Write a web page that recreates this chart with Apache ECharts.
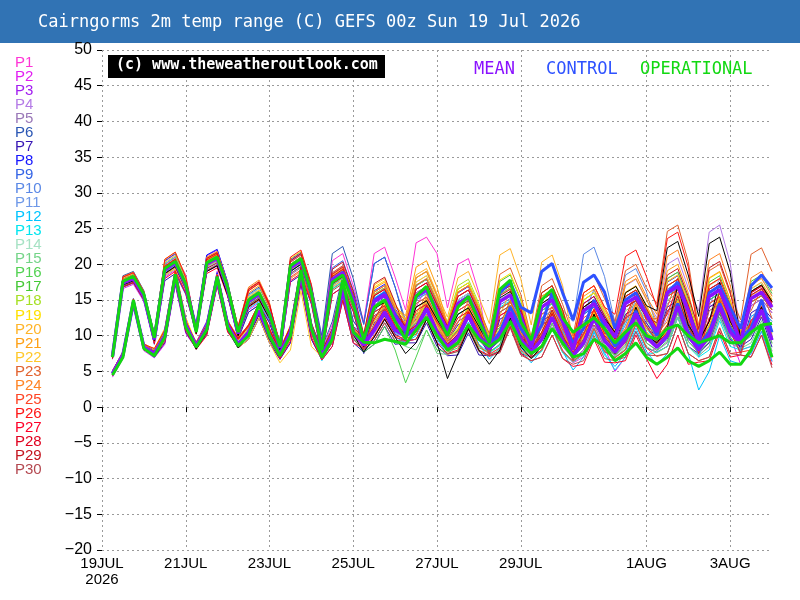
<!DOCTYPE html>
<html>
<head>
<meta charset="utf-8">
<script src="https://cdn.jsdelivr.net/npm/echarts@6/dist/echarts.min.js"></script>
<style>
  html, body { margin: 0; padding: 0; background: #fff; }
  #main { width: 800px; height: 600px; }
</style>
</head>
<body>
<div id="main"></div>
<script>
// 6-hourly steps from 19 Jul 00z to 4 Aug 00z (index 0 = 00z, data starts at 06z)
const hours = [];
for (let h = 0; h <= 384; h += 6) hours.push(h);

const tickLabels = { 0: "19JUL\n2026", 8: "21JUL", 16: "23JUL", 24: "25JUL", 32: "27JUL", 40: "29JUL", 52: "1AUG", 60: "3AUG" };

const memberNames = ["P1","P2","P3","P4","P5","P6","P7","P8","P9","P10","P11","P12","P13","P14","P15",
  "P16","P17","P18","P19","P20","P21","P22","P23","P24","P25","P26","P27","P28","P29","P30"];

// upper (6h max) and lower (6h min) per member in C; groups of 4 = one day (06z,12z,18z,00z)
const p01u = [7.5,18.2,18.8,16.2, 10,20.4,21.4,18.5, 11,20.5,21.3,17.2, 11,16.3,17.3,14.2, 8.8,20.5,21.5,16.8, 9.5,20.5,21.5,17, 12,21.5,22.4,18.2, 13.6,23,23.8,21.5, 13.9,20,20.8,16, 7.4,12.8,13.7,10.8, 7.5,12.5,13.5,10.8, 7,11.5,12.5,10.4, 10,15,15.9,13.4, 11,17,17.9,14.3, 8.2,14,14.9,11.8, 7.8,12.7,13.6,12];
const p01l = [5,7.8,15.2,8.9, 8,11,19.3,12.5, 8.6,11,18,11.5, 9.3,11.5,14.5,10.8, 7.6,11,19.3,11.4, 8,11.5,18,12, 10.2,13.8,16.3,13.5, 11.5,14,16.8,13.5, 9.4,11.8,14.9,11.6, 7.4,8.3,11.8,8.2, 7,8,11.1,8, 6.2,7,10.5,7.6, 7.7,9.5,13.1,9.8, 8.6,10.5,14.6,10.4, 7.2,8.5,12.6,9.2, 8,8.5,11.6,7.8];
const p02u = [6.7,16.6,17.2,14.8, 9,18.2,19.2,16, 10.5,19.5,20.3,16.1, 9.7,13.6,14.6,12, 7.5,18,19,14.8, 7.7,16.8,17.8,14.2, 8,12.8,13.7,11, 9.5,13,13.9,11.5, 10.3,13.5,14.4,11.7, 9.2,16.3,17.2,14, 8.8,15,16,12.8, 8.2,14,15,12.4, 10.3,15.5,16.4,13.8, 11.5,18,18.9,15.1, 8.5,14.5,15.4,12.2, 8.6,14.2,15.1,13.2];
const p02l = [4.2,6.8,14.2,7.9, 6.9,8.8,17.1,10.3, 8.2,10.2,17.2,10.7, 8.3,9.5,12.5,9, 6.7,9,17.3,9.5, 6.8,9,15.5,9.5, 8,9.3,11.8,9.3, 9.2,9.5,12.3,9, 8.1,9.3,12.4,9.3, 8.4,10.3,13.8,10, 7.7,9.5,12.6,9.3, 6.7,8,11.5,8.3, 5,7,10.6,7.3, 8.4,10,14.1,10, 7.8,9.5,13.6,10, 6,7.5,10.6,6.4];
const p03u = [7.3,17.7,18.3,15.8, 9.8,19.7,20.7,17.4, 11.4,21.2,22,17.5, 10.6,15.3,16.3,13.4, 8.7,20.3,21.3,16.6, 8,17.3,18.3,14.6, 9.5,15.8,16.7,13.4, 11,16,16.9,13.9, 11,15,15.9,12.9, 8.4,14.8,15.7,12.8, 8.5,14.5,15.5,12.4, 8.2,14,15,12.4, 9.8,14.5,15.4,13, 10.8,16.5,17.4,13.9, 9.5,16.5,17.4,13.8, 9.3,15.7,16.6,14.4];
const p03l = [4.9,7.5,14.9,8.6, 7.6,10.3,18.6,11.7, 9.1,12,19,12.3, 8.9,10.8,13.8,10.2, 7.6,11,19.3,11.4, 7.2,9.7,16.2,10.3, 8.9,11.3,13.8,11.2, 10,11,13.8,10.5, 8.5,10.1,13.2,10, 8.2,9.8,13.3,9.5, 7.8,9.8,12.9,9.5, 7.3,9.3,12.8,9.5, 7.7,9.5,13.1,9.8, 8.5,10.3,14.4,10.2, 8.2,10.5,14.6,10.9, 9,10.5,13.6,9.4];
const p04u = [7,17.1,17.7,15.3, 9.9,20,21,17.6, 10.3,19,19.8,15.7, 10.4,15.1,16.1,13.2, 8,19,20,15.6, 8.5,18.3,19.3,15.4, 8.5,13.8,14.7,11.8, 10.5,15,15.9,13.1, 11.5,16,16.9,13.7, 8.9,15.8,16.7,13.6, 8.8,15,16,12.8, 8.8,15,16,13.2, 11,17,17.9,15, 12.5,20,20.9,16.7, 13.5,24.5,25.5,20.2, 10.1,17.2,18.1,15.6];
const p04l = [4.7,7.3,14.7,8.4, 7.8,10.5,18.8,11.9, 8.2,10.2,17.2,10.7, 8.8,10.5,13.5,10, 7.2,10.2,18.5,10.7, 7.5,10.3,16.8,10.7, 8.5,10.3,12.8,10.3, 9.8,10.5,13.3,10, 8.7,10.3,13.4,10.2, 8.5,10.3,13.8,9.9, 8,10,13.1,9.7, 7.7,10,13.5,10.1, 8.5,11,14.6,11, 9.7,12.5,16.6,12, 10,14,18.1,13.7, 9.8,12,15.1,10.6];
const p05u = [7.1,17.4,18,15.5, 9.3,18.7,19.7,16.6, 11,20.3,21.1,16.7, 9.5,13.3,14.3,11.8, 7.8,18.5,19.5,15.2, 8.7,18.8,19.8,15.8, 9.5,15.8,16.7,13.4, 11,16,16.9,13.9, 10.3,13.5,14.4,11.7, 7.4,12.8,13.7,11.2, 7.3,12,13,10.4, 7.2,12,13,10.8, 9,13,13.9,11.8, 9.8,14.5,15.4,12.3, 8.5,14.5,15.4,12.2, 8.6,14.2,15.1,13.2];
const p05l = [4.7,7.3,14.7,8.4, 7.4,9.7,18,11.3, 8.6,11,18,11.5, 8.3,9.5,12.5,9.2, 7,9.7,18,10.4, 7.5,10.5,17,10.9, 8.9,11.3,13.8,11.2, 10,11,13.8,10.5, 8.2,9.3,12.4,9.4, 7.7,8.8,12.3,8.7, 7.2,8.5,11.6,8.5, 6.7,8,11.5,8.5, 7.2,8.5,12.1,9, 7.9,9,13.1,9.2, 7.8,9.5,13.6,10.1, 8.8,10,13.1,9];
const p06u = [7.6,18.4,19,16.3, 10.2,20.5,21.5,18, 11.2,20.8,21.6,17.1, 10.8,15.8,16.8,13.8, 8.9,20.7,21.7,17, 10,21.5,22.5,18, 11.6,20.1,21,16.8, 11.5,17,17.9,14.7, 11,15,15.9,12.9, 7.9,13.8,14.7,12, 8,13.5,14.5,11.6, 7.8,13,14,11.6, 9.5,14,14.9,12.6, 10.2,15.5,16.4,13.1, 8.8,15,15.9,12.6, 8.8,14.7,15.6,13.6];
const p06l = [5,7.8,15.2,8.9, 7.9,10.8,19.1,12.1, 8.8,11.5,18.5,11.9, 9,11,14,10.4, 7.8,11.3,19.6,11.6, 8.3,12,18.5,12.1, 9.9,13.3,15.8,12.8, 10.5,12,14.8,11.3, 8.4,9.8,12.9,9.8, 8,9.3,12.8,9.1, 7.7,9.5,12.6,9.3, 7.2,9,12.5,9.3, 7.7,9.5,13.1,9.8, 8.2,9.5,13.6,9.6, 8,10,14.1,10.5, 9,10.5,13.6,9.4];
const p07u = [6.9,16.9,17.5,15.1, 8.8,17.7,18.7,15.8, 10.3,19,19.8,15.7, 9.6,13.3,14.3,11.8, 7.3,17.5,18.5,14.4, 7.2,15.8,16.8,13.4, 7.5,11.8,12.7,10.2, 9.3,12.5,13.4,11.1, 9.3,11.5,12.4,10.1, 7.2,12.3,13.2,10.8, 7.3,12,13,10.4, 7,11.5,12.5,10.4, 9,13,13.9,11.8, 9.5,14,14.9,11.9, 8.3,14,14.9,11.8, 8.1,13.2,14.1,12.4];
const p07l = [4.4,7,14.4,8.1, 7,9,17.3,10.5, 8.2,10.2,17.2,10.7, 8.3,9.5,12.5,9, 6.7,9,17.3,9.5, 6.6,8.5,15,9, 7.7,8.8,11.3,8.8, 9,9,11.8,8.5, 7.2,7.3,10.4,7.3, 7.2,7.8,11.3,7.5, 7,8,11.1,7.8, 6.5,7.5,11,7.8, 7,8,11.6,8.3, 7.7,8.5,12.6,8.5, 7.5,9,13.1,9.5, 8.5,9.5,12.6,8.4];
const p08u = [7.4,17.9,18.5,15.9, 9.4,18.9,19.9,16.8, 11.5,21.3,22.1,17.5, 10.7,15.6,16.6,13.6, 8,19,20,15.6, 8.6,18.6,19.6,15.6, 9.8,16.3,17.2,13.8, 11.5,17,17.9,14.7, 11.5,16,16.9,13.7, 9,16.1,17,13.8, 8.8,15,16,12.8, 8.5,14.5,15.5,12.8, 10.3,15.5,16.4,13.8, 11.3,17.5,18.4,14.7, 9.5,16.5,17.4,13.8, 9.6,16.2,17.1,14.8];
const p08l = [5,7.6,15,8.7, 7.4,9.7,18,11.2, 9,11.8,18.8,12.1, 9,11,14,10.4, 7.2,10.2,18.5,10.8, 7.5,10.5,17,10.9, 9.1,11.6,14.1,11.4, 10.4,11.8,14.6,11.1, 8.9,10.8,13.9,10.6, 8.7,10.8,14.3,10.3, 8.1,10.3,13.4,9.9, 7.6,9.8,13.3,9.9, 8.1,10.3,13.9,10.4, 8.9,11,15.1,10.8, 8.4,10.8,14.9,11.1, 9.4,11.3,14.4,10];
const p09u = [7.4,18,18.6,16, 9.9,20,21,17.6, 10.6,19.5,20.3,16.1, 10.6,15.3,16.3,13.4, 8.8,20.5,21.5,16.8, 9,19.5,20.5,16.4, 11.6,20.1,21,16.8, 12.1,18.1,19,15.6, 11.3,15.5,16.4,13.3, 8.2,14.3,15.2,12.4, 8,13.5,14.5,11.6, 7.8,13,14,11.6, 9.5,14,14.9,12.6, 10.8,16.5,17.4,13.9, 9,15.5,16.4,13, 9.1,15.2,16.1,14];
const p09l = [5,7.6,15,8.7, 7.8,10.5,18.8,11.9, 8.5,10.7,17.7,11.2, 9,10.8,13.8,10.2, 7.6,11,19.3,11.4, 7.8,11,17.5,11.3, 10.2,13.8,16.3,13.5, 10.8,12.5,15.3,11.7, 8.6,10.3,13.4,10.2, 8,9.5,13,9.3, 7.5,9.2,12.3,9.1, 7,8.7,12.2,9.1, 7.5,9.2,12.8,9.6, 8.4,10,14.1,10, 8,10,14.1,10.5, 9,10.5,13.6,9.4];
const p10u = [6.9,17,17.6,15.2, 9.6,19.5,20.5,17.2, 10.4,19.2,20,15.9, 10,14.3,15.3,12.6, 8.5,20,21,16.4, 7.8,17.1,18.1,14.4, 8.8,14.3,15.2,12.2, 10.5,15,15.9,13.1, 10.8,14.5,15.4,12.5, 8.9,15.8,16.7,13.6, 9.3,16,17,13.6, 12,21.4,22.4,18.3, 11.8,18.5,19.4,16.2, 11,17,17.9,14.3, 9,15.5,16.4,13, 8.8,14.7,15.6,13.6];
const p10l = [4.4,7,14.4,8.1, 7.5,10,18.3,11.5, 8.3,10.5,17.5,11, 8.6,10.2,13.2,9.7, 7.6,10.8,19.1,11.2, 7,9.5,16,10.1, 8.5,10.5,13,10.5, 9.8,10.7,13.5,10.3, 8.4,9.8,12.9,9.8, 8.4,10.3,13.8,9.9, 8.2,10.5,13.6,10.1, 9.2,13,16.5,12.5, 8.7,11.5,15.1,11.4, 8.6,10.5,14.6,10.4, 8,10,14.1,10.5, 9,10.5,13.6,9.4];
const p11u = [7.2,17.6,18.2,15.7, 9.9,20,21,17.6, 11,20.3,21.1,16.7, 10.5,15.1,16.1,13.2, 8.5,19.8,20.8,16.2, 8.4,18.1,19.1,15.2, 9.4,15.6,16.5,13.2, 11.3,16.5,17.4,14.3, 11,15,15.9,12.9, 8.8,15.6,16.5,13.4, 8.5,14.5,15.5,12.4, 8.2,14,15,12.4, 10,15,15.9,13.4, 10.8,16.5,17.4,13.9, 9.2,16,16.9,13.4, 9.6,16.2,17.1,14.8];
const p11l = [4.8,7.5,14.9,8.6, 7.9,10.6,18.9,12, 8.7,11.2,18.2,11.7, 9,10.7,13.7,10.2, 7.6,10.7,19,11.2, 7.5,10.2,16.7,10.7, 9,11.3,13.8,11.2, 10.5,11.6,14.4,11, 8.6,10.1,13.2,10, 8.6,10.3,13.8,9.9, 7.9,9.8,12.9,9.5, 7.4,9.3,12.8,9.5, 8,9.8,13.4,10.1, 8.7,10.3,14.4,10.2, 8.3,10.3,14.4,10.8, 9.5,11,14.1,9.8];
const p12u = [6.8,16.8,17.4,15, 9.1,18.4,19.4,16.4, 10.7,19.7,20.5,16.3, 9.8,13.8,14.8,12.2, 7.9,18.7,19.7,15.4, 7.6,16.6,17.6,14, 8.2,13.3,14.2,11.4, 10.3,14.5,15.4,12.7, 10,13,13.9,11.3, 7.9,13.8,14.7,12, 7.5,12.5,13.5,10.8, 7,11.5,12.5,10.4, 8.5,12,12.9,11, 9.2,13.5,14.4,11.5, 7,11.5,12.4,9.8, 7.8,12.7,13.6,12];
const p12l = [4.4,7,14.4,8.1, 7,9.5,17.8,11, 8.3,10.7,17.7,11.2, 8.3,10,13,9.5, 6.9,10,18.3,10.5, 6.5,9.2,15.7,9.7, 7.7,9.8,12.3,9.8, 9,10,12.8,9.5, 7.4,8.8,11.9,8.8, 6.7,8.3,11.8,8, 6.2,8,11.1,7.8, 5.2,7,10.5,7.3, 5.7,7.5,11.1,7.8, 5.9,7.5,11.6,7.5, 2.4,5,10,6.5, 6,7.5,10.6,6.4];
const p13u = [7.3,17.8,18.4,15.8, 9.4,18.9,19.9,16.8, 11,20.5,21.3,16.9, 10.2,14.5,15.5,12.8, 8.5,19.8,20.8,16.2, 8.1,17.5,18.5,14.8, 9.3,15.3,16.2,13, 10.7,15.2,16.1,13.3, 10.6,14,14.9,12.1, 8,14,14.9,12.2, 8,13.5,14.5,11.6, 7.9,13.2,14.2,11.8, 9.6,14,14.9,12.6, 10.4,15.7,16.6,13.3, 8.8,15,15.9,12.6, 8.9,14.7,15.6,13.6];
const p13l = [4.8,7.5,14.9,8.6, 7.4,9.8,18.1,11.3, 8.8,11.3,18.3,11.8, 8.7,10.3,13.3,9.8, 7.5,10.7,19,11.2, 7.2,9.8,16.3,10.3, 8.6,10.5,13,10.5, 9.8,10.5,13.3,10, 7.9,8.8,11.9,8.8, 7.6,8.6,12.1,8.3, 6.8,7.8,10.9,7.6, 6.3,7.3,10.8,7.6, 5.2,7,10.6,7.3, 7.7,8.5,12.6,8.5, 7,8,12.1,8.5, 8,8.5,11.6,7.4];
const p14u = [7.1,17.4,18,15.5, 9.8,19.7,20.7,17.4, 10.6,19.5,20.3,16.1, 10.7,15.6,16.6,13.6, 8.6,20,21,16.4, 8.4,18.1,19.1,15.2, 9.7,16.1,17,13.6, 11.8,17.5,18.4,15.1, 11,15,15.9,12.9, 8.6,15.1,16,13, 8.5,14.5,15.5,12.4, 8.8,15,16,13.2, 10.5,16,16.9,14.2, 11.5,18,18.9,15.1, 9.8,17,17.9,14.2, 9.8,16.5,17.4,15];
const p14l = [4.7,7.3,14.7,8.4, 7.8,10.3,18.6,11.8, 8.4,10.7,17.7,11.2, 9.2,11,14,10.4, 7.6,10.8,19.1,11.2, 7.5,10.2,16.7,10.7, 9.3,11.5,14,11.4, 11,12,14.8,11.3, 8.7,10.1,13.2,10, 8.4,10,13.5,9.7, 7.9,9.8,12.9,9.5, 8,9.8,13.3,10, 8.5,10.3,13.9,10.6, 9.4,11,15.1,10.8, 8.8,10.8,14.9,11.3, 9.7,11.2,14.3,10];
const p15u = [7,17.1,17.7,15.3, 9.3,18.7,19.7,16.6, 11,20.5,21.3,16.9, 10,14.3,15.3,12.6, 8.2,19.2,20.2,15.8, 7.8,17,18,14.4, 8.8,14.3,15.2,12.2, 9.8,13.5,14.4,11.9, 9.8,12.5,13.4,10.9, 7.6,13.3,14.2,11.6, 7.8,13,14,11.2, 7.2,12,13,10.8, 9.3,13.5,14.4,12.2, 10,15,15.9,12.7, 8.5,14.5,15.4,12.2, 8.8,14.7,15.6,13.6];
const p15l = [4.6,7.1,14.5,8.2, 7.3,9.7,18,11.2, 8.8,11.3,18.3,11.8, 8.6,10.2,13.2,9.7, 7.3,10.3,18.6,10.8, 7,9.5,16,10, 7.9,9.3,11.8,9.3, 8.5,8,10.8,7.5, 7.4,7.8,10.9,7.8, 7.3,8,11.5,7.7, 6.9,8,11.1,7.8, 6.5,7.6,11.1,7.9, 7,8.2,11.8,8.5, 7.6,8.5,12.6,8.5, 7.2,8.5,12.6,9, 8.2,9,12.1,7.9];
const p16u = [7.2,17.6,18.2,15.7, 9.5,19.2,20.2,17, 11.2,20.8,21.6,17.1, 9.9,14,15,12.4, 8.6,20,21,16.4, 7.5,16.5,17.5,14, 8.2,13.3,14.2,11.4, 9.5,13,13.9,11.5, 10,13,13.9,11.3, 7.9,13.8,14.7,12, 8,13.5,14.5,11.6, 8,13.5,14.5,12, 9.5,14,14.9,12.6, 10.2,15.5,16.4,13.1, 8.8,15,15.9,12.6, 8.8,14.7,15.6,13.6];
const p16l = [4.7,7.3,14.7,8.4, 7.5,10,18.3,11.5, 8.9,11.5,18.5,12, 8.5,10,13,9.5, 7.5,10.8,19.1,11.3, 6.9,9.2,15.7,9.7, 7.7,8.8,11.3,8, 3.4,7,10.8,8, 7.7,8.3,11.4,8.3, 7.7,8.8,12.3,8.5, 7.3,8.7,11.8,8.5, 7,8.5,12,8.8, 7.3,8.7,12.3,9, 8,9.2,13.3,9.2, 7.6,9.2,13.3,9.7, 8.8,10,13.1,8.9];
const p17u = [7.3,17.9,18.5,15.9, 9.6,19.5,20.5,17.2, 10.9,20.2,21,16.7, 10.3,14.8,15.8,13, 8.4,19.8,20.8,16.2, 8.2,17.8,18.8,15, 9.2,15.1,16,12.8, 10.8,15.5,16.4,13.5, 11.8,16.5,17.4,14.1, 9.8,17.6,18.5,15, 9,15.5,16.5,13.2, 8.2,14,15,12.4, 10.1,15.1,16,13.5, 11.5,18,18.9,15.1, 10,17.5,18.4,14.6, 10.3,17.6,18.5,15.9];
const p17l = [4.9,7.6,15,8.7, 7.6,10.2,18.5,11.7, 8.7,11.1,18.1,11.6, 8.8,10.5,13.5,10, 7.6,10.7,19,11.2, 7.3,10,16.5,10.5, 8.8,11,13.5,11, 10,11,13.8,10.5, 9.4,10.8,13.9,10.8, 9.5,11.2,14.8,10.7, 8.4,10.3,13.4,10, 7.5,9.3,12.8,9.5, 8,9.8,13.4,10.1, 9.4,11,15.1,10.8, 8.9,11,15.1,11.4, 10,11.7,14.8,10.4];
const p18u = [7,17.2,17.8,15.3, 10,20.2,21.2,17.8, 11,20.5,21.3,16.9, 11,16.3,17.3,14.2, 8.2,19.2,20.2,15.8, 8.5,18.5,19.5,15.6, 9.5,15.8,16.7,13.4, 11.5,17,17.9,14.7, 12,17,17.9,14.5, 8.9,15.8,16.7,13.6, 8.8,15,16,12.8, 8.8,15,16,13.2, 10.3,15.5,16.4,13.8, 11,17,17.9,14.3, 9.2,16,16.9,13.4, 9.6,16.2,17.1,14.8];
const p18l = [4.6,7.2,14.6,8.3, 8,10.6,18.9,12, 8.8,11.3,18.3,11.8, 9.5,11.3,14.3,10.6, 7.3,10.3,18.6,10.8, 7.6,10.4,16.9,10.8, 9.2,11.3,13.8,11.2, 10.7,11.8,14.6,11.1, 9.5,11,14.2,10.8, 8.7,10.3,13.8,9.9, 8.2,10,13.1,9.7, 7.9,9.8,13.3,10, 8.2,10,13.6,10.2, 8.9,10.5,14.6,10.4, 8.2,10.3,14.4,10.8, 9.5,11,14.1,9.8];
const p19u = [7.4,18.1,18.7,16.1, 10.2,20.7,21.7,18.2, 11.1,20.7,21.5,17.1, 10.6,15.4,16.4,13.5, 8.9,20.8,21.8,17, 8.4,18.3,19.3,15.4, 10,16.8,17.7,14.2, 12.1,18.1,19,15.6, 11.8,16.5,17.4,14.1, 9.9,17.8,18.7,15.2, 9.3,16,17,13.6, 8.8,15,16,13.2, 10.5,16,16.9,14.2, 11,17,17.9,14.3, 10.2,18,18.9,15, 9.6,16.2,17.1,14.8];
const p19l = [5,7.7,15.1,8.8, 8.2,11,19.3,12.5, 9,11.5,18.5,12, 9.1,10.9,13.9,10.4, 8,11.5,19.8,11.8, 7.6,10.3,16.8,10.8, 9.7,12,14.5,12, 11.3,12.5,15.3,11.8, 9.4,11,14.1,10.8, 9.2,11,14.8,10.8, 8.7,10.5,13.6,10.1, 7.9,9.8,13.3,10, 8.5,10.3,13.9,10.6, 8.9,10.5,14.6,10.4, 9,11.5,15.6,11.8, 9.5,11,14.1,9.8];
const p20u = [7.3,17.8,18.4,15.8, 9.8,19.7,20.7,17.4, 10.7,19.7,20.5,16.3, 11.2,16.5,17.5,14.4, 8.6,20,21,16.4, 8.6,18.5,19.5,15.6, 10.2,17.1,18,14.4, 12.3,18.5,19.4,15.9, 12.6,18.1,19,15.4, 11.7,21.3,22.2,18, 11.5,20.3,21.3,17, 9.3,16,17,14, 10.6,16.1,17,14.3, 11.3,17.6,18.5,14.8, 9.5,16.5,17.4,13.8, 9.8,16.6,17.5,15.1];
const p20l = [4.8,7.5,14.9,8.6, 7.7,10.3,18.6,11.8, 8.5,10.8,17.8,11.3, 9.5,11.5,14.5,10.9, 7.6,10.8,19.1,11.2, 7.5,10.5,17,10.9, 9.5,12.3,14.8,12, 10.8,12.5,15.3,11.7, 9.4,11.8,14.9,11.4, 9.7,12.8,16.3,11.9, 9,12,15.1,11.3, 7.8,10.2,13.7,10.3, 8.2,10.5,14.1,10.6, 8.8,10.8,14.9,10.6, 8.3,10.5,14.6,10.9, 9.3,11.1,14.2,9.9];
const p21u = [7,17.3,17.9,15.4, 9.4,19,20,16.8, 11.1,20.6,21.4,17, 10.9,16,17,14, 8.2,19.3,20.3,15.8, 8.3,18,19,15.2, 9.9,16.6,17.5,14, 12.8,19.6,20.5,16.8, 11.6,16.1,17,13.8, 9.3,16.6,17.5,14.2, 9,15.5,16.5,13.2, 9,15.5,16.5,13.6, 11.1,17.1,18,15.1, 12,19.1,20,16, 10.3,18.1,19,15.1, 10.1,17.1,18,15.5];
const p21l = [4.7,7.2,14.6,8.3, 7.4,9.9,18.2,11.4, 8.9,11.4,18.4,11.9, 9.4,11.2,14.2,10.6, 7.3,10.4,18.7,10.9, 7.4,10.1,16.6,10.6, 9.6,12,14.3,11.8, 12,13,15.8,12.2, 9.2,10.6,13.7,10.6, 9.1,10.7,14.2,10.4, 8.4,10.3,13.4,10, 8.2,10,13.5,10.3, 9,10.8,14.4,11, 9.8,11.5,15.6,11.3, 9.3,11.3,15.4,11.7, 10,11.5,14.6,10.2];
const p22u = [7.3,17.7,18.3,15.7, 9.1,18.4,19.4,16.4, 10.8,20,20.8,16.5, 9.9,14,15,12.4, 7.6,18,19,14.8, 7.7,16.8,17.8,14.2, 9.2,15.1,16,12.8, 11.8,17.5,18.4,15.1, 11.3,15.5,16.4,13.3, 9,16.1,17,13.8, 8.5,14.5,15.5,12.4, 8.2,14,15,12.4, 10.3,15.5,16.4,13.8, 11.3,17.6,18.5,14.8, 9.8,17.1,18,14.3, 9.3,15.6,16.5,14.3];
const p22l = [4.7,7.4,14.8,8.5, 7.3,9.5,17.8,11, 8.6,11,18,11.5, 8.3,9.5,12.5,9, 6.2,8,16.3,8.5, 7,9.5,16,10, 8.7,10.8,13.3,10.8, 10.5,12,14.8,11.3, 8.6,10.3,13.4,10.2, 8.4,10.3,13.8,9.9, 7.8,9.8,12.9,9.5, 7.3,9.3,12.8,9.5, 8,10,13.6,10.2, 8.8,10.8,14.9,10.6, 8.4,10.8,14.9,11.1, 9,10.5,13.6,9.4];
const p23u = [7.5,18.3,18.9,16.2, 9.8,19.8,20.8,17.5, 11.2,20.9,21.7,17.2, 11.2,16.6,17.6,14.4, 8.7,20.3,21.3,16.6, 8.7,18.8,19.8,15.8, 9.7,16.1,17,13.6, 11.6,17.1,18,14.8, 11.6,16.1,17,13.8, 10.3,18.6,19.5,15.8, 9.8,17,18,14.4, 10,17.5,18.5,15.2, 12,19.1,20,16.7, 14.5,24.6,25.5,20.4, 10.8,19.1,20,15.9, 12.2,21.4,22.3,19];
const p23l = [5.1,7.7,15.1,8.8, 7.8,10.3,18.6,11.8, 9.1,11.5,18.5,12, 9.8,11.5,14.5,11, 7.9,11,19.3,11.5, 7.9,10.6,17.1,11.1, 9.2,11.3,13.8,11.3, 10.5,11.5,14.3,11, 9.2,10.6,13.7,10.6, 9.9,11.5,15,11.2, 9.2,11,14.1,10.8, 9.2,11,14.5,11.3, 10.2,12,15.6,12.3, 12.4,14,18.1,14, 10,12,16.1,12.5, 12,13.5,16.6,12.4];
const p24u = [7.4,17.9,18.5,15.9, 9.6,19.4,20.4,17.2, 11.3,21,21.8,17.3, 11.3,16.8,17.8,14.6, 8.4,19.8,20.8,16.2, 8.4,18.2,19.2,15.3, 9.6,16.1,17,13.6, 12.1,18.1,19,15.6, 11.6,16.1,17,13.8, 9.3,16.6,17.5,14.2, 9.3,16,17,13.6, 9.3,16,17,14, 11.3,17.6,18.5,15.5, 13,21.1,22,17.6, 11.5,20.6,21.5,17.1, 10.5,18.1,19,16.3];
const p24l = [4.9,7.6,15,8.7, 7.6,10.1,18.4,11.6, 9.1,11.6,18.6,12.1, 9.8,11.5,14.5,11, 7.5,10.6,18.9,11.1, 7.5,10.2,16.7,10.7, 9.2,11.5,14,11.4, 10.8,12.2,15,11.7, 8.9,10.6,13.7,10.6, 8.8,10.7,14.2,10.4, 8.5,10.5,13.6,10.3, 8.4,10.3,13.8,10.5, 9.2,11,14.6,11.3, 10.2,12,16.1,12, 9.8,12,16.1,12.5, 10.2,11.8,14.9,10.7];
const p25u = [7,17.2,17.8,15.3, 9.2,18.6,19.6,16.5, 10.3,19.1,19.9,15.8, 10,14.3,15.3,12.6, 7.6,18.2,19.2,15, 7.9,17.2,18.2,14.5, 8.5,13.8,14.7,11.8, 10.3,14.5,15.4,12.7, 10.3,13.5,14.4,11.7, 7.9,13.8,14.7,12, 7.8,13,14,11.2, 7.5,12.5,13.5,11.2, 9.5,14,14.9,12.6, 10.2,15.5,16.4,13.1, 8.5,14.5,15.4,12.2, 8.8,14.7,15.6,13.6];
const p25l = [4.6,7.2,14.6,8.3, 7.2,9.6,17.9,11.1, 8.2,10.4,17.4,10.9, 8.6,10.2,13.2,9.7, 7,9.7,18,10.2, 7,9.5,16,10, 8.3,10,12.5,10, 9.6,10.2,13,9.7, 7.8,8.6,11.7,8.6, 7.4,8.3,11.8,8, 6.9,8,11.1,7.8, 6.4,7.5,11,7.8, 6.9,8,11.6,8.3, 7.1,7.5,11.6,7.5, 6.5,7,11.1,7.5, 7.7,8,11.1,6.9];
const p26u = [7.5,18.2,18.8,16.1, 10.2,20.7,21.7,18.2, 11.1,20.6,21.4,17, 11,16.3,17.3,14.2, 9,21,22,17.2, 8.6,18.6,19.6,15.6, 9.4,15.6,16.5,13.2, 11.3,16.5,17.4,14.3, 11.3,15.5,16.4,13.3, 8.8,15.6,16.5,13.4, 8.8,15,16,12.8, 9.3,16,17,14, 13,21.1,22,18.3, 14,23.6,24.5,19.6, 9.8,17.1,18,14.3, 9.5,16.1,17,14.7];
const p26l = [5.1,7.7,15.1,8.8, 8.2,10.8,19.1,12.1, 8.9,11.3,18.3,11.8, 9.5,11.3,14.3,10.6, 8.2,11.3,19.6,11.6, 7.7,10.4,16.9,10.8, 9,11.2,13.7,11.1, 10.4,11.4,14.2,10.8, 8.8,10.2,13.3,10.2, 8.5,10.2,13.7,9.8, 8.1,10,13.1,9.7, 8.2,10.2,13.7,10.3, 10.2,12.5,16.1,12.2, 10.9,13,17.1,12.4, 8.8,10.8,14.9,11.1, 9.4,11,14.1,9.8];
const p27u = [6.8,16.9,17.5,15.1, 8.9,18,19,16, 10.2,18.7,19.5,15.5, 9.9,14,15,12.4, 7.4,17.7,18.7,14.6, 7.2,15.8,16.8,13.4, 8.2,13.3,14.2,11.4, 9.8,13.5,14.4,11.9, 9.8,12.5,13.4,10.9, 7.4,12.8,13.7,11.2, 7,11.5,12.5,10, 6.8,11,12,10, 8.8,12.5,13.4,11.4, 9.2,13.5,14.4,11.5, 7.5,12.5,13.4,10.6, 7.6,12.2,13.1,11.6];
const p27l = [4.4,7,14.4,8.1, 7.1,9.2,17.5,10.7, 8.1,10,17,10.5, 8.6,10,13,9.5, 6.8,9.3,17.6,9.8, 6.6,8.5,15,9, 8.2,9.8,12.3,9.8, 9.3,9.5,12.3,9, 7.5,8,11.1,8, 7.2,7.8,11.3,7.5, 6.5,7,10.1,6.8, 5.7,6,9.5,6.3, 6.2,6.5,10.1,6.8, 4,6,10.1,6, 6.3,6.5,10.6,7, 7.3,7,10.1,5.9];
const p28u = [7.2,17.6,18.2,15.7, 9.8,19.7,20.7,17.4, 11.2,20.8,21.6,17.1, 11.2,16.5,17.5,14.4, 8.4,19.8,20.8,16.2, 8.4,18.3,19.3,15.4, 9.4,15.6,16.5,13.2, 11.3,16.5,17.4,14.3, 11.3,15.5,16.4,13.3, 9,16.1,17,13.8, 8.8,15,16,12.8, 8.5,14.5,15.5,12.8, 10.3,15.5,16.4,13.8, 11,17,17.9,14.3, 9.5,16.5,17.4,13.8, 9.5,16,16.9,14.6];
const p28l = [4.8,7.4,14.8,8.5, 7.8,10.3,18.6,11.8, 9,11.5,18.5,12, 9.6,11.5,14.5,11, 7.5,10.6,18.9,11.1, 7.5,10.2,16.7,10.7, 9,11.2,13.7,11.1, 10.4,11.4,14.2,10.8, 8.8,10.2,13.3,10.2, 8.7,10.4,13.9,10, 8.1,10,13.1,9.7, 7.6,9.5,13,9.8, 8.1,10,13.6,10.2, 8.9,10.5,14.6,10.4, 8.4,10.5,14.6,10.9, 9.3,10.9,14,9.7];
const p29u = [6.8,16.8,17.4,15, 9.6,19.5,20.5,17.2, 10.5,19.4,20.2,16, 10.2,14.6,15.6,12.8, 8.8,20.5,21.5,16.8, 8.9,19.3,20.3,16.2, 10.2,17.3,18.2,14.6, 10.8,15.5,16.4,13.5, 10.5,14,14.9,12.1, 8.4,14.8,15.7,12.8, 9.3,16,17,13.6, 8.2,14,15,12.4, 9.5,14,14.9,12.6, 11.8,18.5,19.4,15.5, 11,19.5,20.4,16.2, 9.3,15.7,16.6,14.4];
const p29l = [4.5,6.9,14.3,8, 7.6,10.2,18.5,11.7, 8.4,10.6,17.6,11.1, 8.8,10.5,13.5,10, 7.8,11.3,19.6,11.8, 7.8,11,17.5,11.3, 9.5,12.3,14.8,12, 10,11,13.8,10.5, 8.3,9.5,12.6,9.5, 8.2,9.8,13.3,9.5, 8.2,10.5,13.6,10.1, 7.2,9,12.5,9.3, 7.5,9,12.6,9.4, 9.2,11.5,15.6,11.2, 9,12,16.1,12.1, 9,10.5,13.6,9.4];
const p30u = [7,17.2,17.8,15.3, 9.3,18.7,19.7,16.6, 11,20.3,21.1,16.7, 10,14.3,15.3,12.6, 7.9,18.7,19.7,15.4, 7.5,16.3,17.3,13.8, 8,12.8,13.7,11, 10,14,14.9,12.3, 9.5,12,12.9,10.5, 7.6,13.3,14.2,11.6, 7,11.5,12.5,10, 6.5,10.5,11.5,9.6, 8.8,12.5,13.4,11.4, 9.2,13.5,14.4,11.5, 8,13.5,14.4,11.4, 7.3,11.7,12.6,11.2];
const p30l = [4.6,7.1,14.5,8.2, 7.3,9.7,18,11.2, 8.7,11.2,18.2,11.7, 8.6,10.2,13.2,9.7, 7.1,9.9,18.2,10.4, 6.8,9,15.5,9.5, 8,9.3,11.8,9.3, 9.3,9.5,12.3,9, 7.4,7.8,10.9,7.8, 7.1,7.6,11.1,7.3, 6.5,7,10.1,6.8, 6,6.5,10,6.8, 6.5,7,10.6,7.3, 7.2,7.5,11.6,7.5, 6.5,7,11.1,7.5, 7.3,7,10.1,5.5];

// unlabelled black member pair
const blackU = [7,17.1,17.7,15.3, 9.3,18.7,19.7,16.6, 10.3,19,19.8,15.7, 10,14.1,15.1,12.4, 8,19,20,15.6, 8,17.3,18.3,14.6, 8.5,13.8,14.7,11.8, 10,14,14.9,12.3, 10,13,13.9,11.3, 8.6,15.3,16.2,13.2, 8.5,14.5,15.5,12.4, 8.2,14,15,12.4, 10.5,16,16.9,14.2, 13.5,22.3,23.2,18.5, 12.7,22.9,23.8,18.9, 9.6,16.2,17.1,14.8];
const blackL = [4.5,7,14.4,8.1, 7.2,9.7,18,11.2, 8.1,10.5,17.5,11, 8.3,10,13,9.5, 7.2,10.2,18.5,10.7, 7,9.7,16.2,10.2, 7.7,9.8,12.3,9.8, 7.5,9,12.3,9, 4,7.5,11,8, 6,8,12.5,8.5, 6.8,8.5,12.5,9, 7,9,13,9.5, 7.5,9.5,14,10, 9,11,17,11.5, 9.2,12,17.5,12, 9.5,11,14,9.5];

const meanU = [7.1,17.4,18,15.5, 9.5,19.2,20.2,17, 10.8,20,20.8,16.5, 10.3,14.8,15.8,13, 8.3,19.5,20.5,16, 8.2,17.8,18.8,15, 9,14.8,15.7,12.6, 10.8,15.5,16.4,13.5, 10.8,14.5,15.4,12.5, 8.4,14.8,15.7,12.8, 8.3,14,15,12, 8,13.5,14.5,12, 9.8,14.5,15.4,13, 10.5,16,16.9,13.5, 9,15.5,16.4,13, 9.1,15.2,16.1,14];
const meanL = [4.7,7.3,14.7,8.4, 7.5,10,18.3,11.5, 8.6,11,18,11.5, 8.8,10.5,13.5,10, 7.4,10.5,18.8,11, 7.3,10,16.5,10.5, 8.7,10.8,13.3,10.8, 10,11,13.8,10.5, 8.4,9.8,12.9,9.8, 8.2,9.8,13.3,9.5, 7.7,9.5,12.6,9.3, 7.2,9,12.5,9.3, 7.7,9.5,13.1,9.8, 8.4,10,14.1,10, 8,10,14.1,10.5, 9,10.5,13.6,9.4];
const ctrlU = [7.1,17.5,18.1,15.6, 9.5,19.3,20.3,17.1, 10.8,20.1,20.9,16.6, 10.3,14.9,15.9,13.1, 8.3,19.6,20.6,16.1, 8.2,17.9,18.9,15.1, 9,15,16,13, 10.5,15.5,16.5,13.5, 10.5,14.5,15.5,12.5, 9,16,17.5,14, 13.2,19,20.1,16, 12.2,17.5,18.5,16.1, 11,15,16,13, 10,16,17.5,13.5, 9.5,16,17,14, 11,17,18.5,16.7];
const ctrlL = [4.7,7.3,14.7,8.4, 7.5,10,18.3,11.5, 8.6,11,18,11.5, 8.8,10.5,13.5,10, 7.4,10.5,18.8,11, 7.3,10,16.5,10.5, 8.7,10.8,13.3,10.8, 10,11,13.8,10.5, 8.4,9.8,12.9,9.8, 8.5,10.5,14,11, 9,11.5,16,12, 9,11,15,11, 8.5,10,13.5,10, 8.5,10,14.5,10.5, 8.5,10.5,14.5,11, 9.5,11,15,10.5];
const opU = [7,17.6,18.3,15.8, 9.7,19.4,20.4,17.2, 10.5,20.2,21,16.8, 10.5,15,16,13, 8.5,19.8,20.8,16, 8,17.5,18.5,14.5, 9.5,14,15,12, 9.5,15.5,16.9,13, 10,14,15.5,12, 9,16.5,17.8,12, 9.4,15,16.5,12.5, 10.5,11.5,12.5,11, 9,10.5,11.8,10, 9.5,11,11.5,10, 9,9.5,10,9, 9,10.5,11.5,11.7];
const opL = [4.5,7,15,8.2, 7.2,9.8,18.6,11.2, 8.4,10.8,18.3,11.2, 8.6,10,14.5,10, 7.2,10,19.2,11, 7,9.5,17.8,10.5, 9.1,9,9.5,9.2, 8.8,10.8,12.6,10, 8,9,11.5,9.5, 8.5,9.5,12,9, 7.5,8.5,11,9, 7,7.5,9.5,8.5, 6.5,7.5,9,7, 6,7,8.3,6.5, 5.7,6.5,7.7,6, 6,8,11.5,7];

const memberUpper = [p01u,p02u,p03u,p04u,p05u,p06u,p07u,p08u,p09u,p10u,p11u,p12u,p13u,p14u,p15u,
  p16u,p17u,p18u,p19u,p20u,p21u,p22u,p23u,p24u,p25u,p26u,p27u,p28u,p29u,p30u];
const memberLower = [p01l,p02l,p03l,p04l,p05l,p06l,p07l,p08l,p09l,p10l,p11l,p12l,p13l,p14l,p15l,
  p16l,p17l,p18l,p19l,p20l,p21l,p22l,p23l,p24l,p25l,p26l,p27l,p28l,p29l,p30l];

const memberColors = ["#ff33d6","#e21cf2","#a21cf0","#b47ae6","#9a78b8","#2a56b4","#3514b4","#1414ff","#3464e6","#5a88e6",
  "#6e98e8","#00c4ff","#00e6f0","#a6e2c4","#74d488","#52d252","#44c834","#a6e024","#ffe000","#ffb428",
  "#ffa014","#ffc82a","#e2622e","#ff8424","#ff4424","#ff1414","#ff0028","#e0001e","#c4141e","#b44850"];

const chart = echarts.init(document.getElementById("main"), null, { renderer: "canvas" });

const pad = arr => [null].concat(arr);
const line = (name, data, color, w, z) => ({
  name, type: "line", data: pad(data), symbol: "none", silent: true,
  lineStyle: { width: w, color }, itemStyle: { color }, z
});

const series = [];
memberNames.forEach((n, i) => {
  series.push(line(n, memberUpper[i], memberColors[i], 1, 2));
  series.push(line(n, memberLower[i], memberColors[i], 1, 2));
});
series.push(line("black", blackU, "#000", 1, 2));
series.push(line("black", blackL, "#000", 1, 2));
series.push(line("CONTROL", ctrlU, "#2e52ff", 3, 3));
series.push(line("CONTROL", ctrlL, "#2e52ff", 3, 3));
series.push(line("MEAN", meanU, "#8a12ff", 3.5, 4));
series.push(line("MEAN", meanL, "#8a12ff", 3.5, 4));
series.push(line("OPERATIONAL", opU, "#12d812", 3, 5));
series.push(line("OPERATIONAL", opL, "#12d812", 3, 5));

const dotted = { color: "#9a9a9a", width: 1, type: [2, 3] };
const isTick = idx => tickLabels[idx] !== undefined;

const graphic = [
  { type: "rect", left: 0, top: 0, shape: { width: 800, height: 43 }, style: { fill: "#3173b4" }, silent: true },
  { type: "text", left: 38, top: 14, style: { text: "Cairngorms 2m temp range (C) GEFS 00z Sun 19 Jul 2026",
    fill: "#fff", font: "17px 'DejaVu Sans Mono'" } },
  { type: "rect", left: 108, top: 55, shape: { width: 277, height: 23 }, style: { fill: "#000" }, z: 10 },
  { type: "text", left: 116, top: 58, z: 11, style: { text: "(c) www.theweatheroutlook.com",
    fill: "#fff", font: "bold 15px 'DejaVu Sans Mono'" } },
  { type: "text", left: 474, top: 61, z: 11, style: { text: "MEAN", fill: "#8a12ff", font: "17px 'DejaVu Sans Mono'" } },
  { type: "text", left: 546, top: 61, z: 11, style: { text: "CONTROL", fill: "#2e52ff", font: "17px 'DejaVu Sans Mono'" } },
  { type: "text", left: 640, top: 61, z: 11, style: { text: "OPERATIONAL", fill: "#12d812", font: "17px 'DejaVu Sans Mono'" } }
];
memberNames.forEach((n, i) => {
  graphic.push({ type: "text", left: 15, top: 55 + i * 14.05, z: 11,
    style: { text: n, fill: memberColors[i], font: "15px 'Liberation Sans'" } });
});

chart.setOption({
  animation: false,
  backgroundColor: "#fff",
  grid: { left: 102, right: 28, top: 50, bottom: 50, containLabel: false },
  xAxis: {
    type: "category", data: hours, boundaryGap: false,
    axisLine: { show: false },
    axisTick: { show: true, interval: isTick, length: 5, lineStyle: { color: "#000" } },
    axisLabel: { interval: isTick, formatter: (v, idx) => tickLabels[idx] || "", color: "#000",
      fontFamily: "Liberation Sans", fontSize: 15, lineHeight: 16, margin: 6 },
    splitLine: { show: true, interval: isTick, lineStyle: dotted }
  },
  yAxis: {
    type: "value", min: -20, max: 50, interval: 5,
    axisLine: { show: false },
    axisTick: { show: true, length: 5, lineStyle: { color: "#000" } },
    axisLabel: { formatter: v => String(v).replace("-", "\u2212"), color: "#000",
      fontFamily: "Liberation Sans", fontSize: 16, margin: 10 },
    splitLine: { show: true, lineStyle: dotted }
  },
  graphic,
  series
});
</script>
</body>
</html>
